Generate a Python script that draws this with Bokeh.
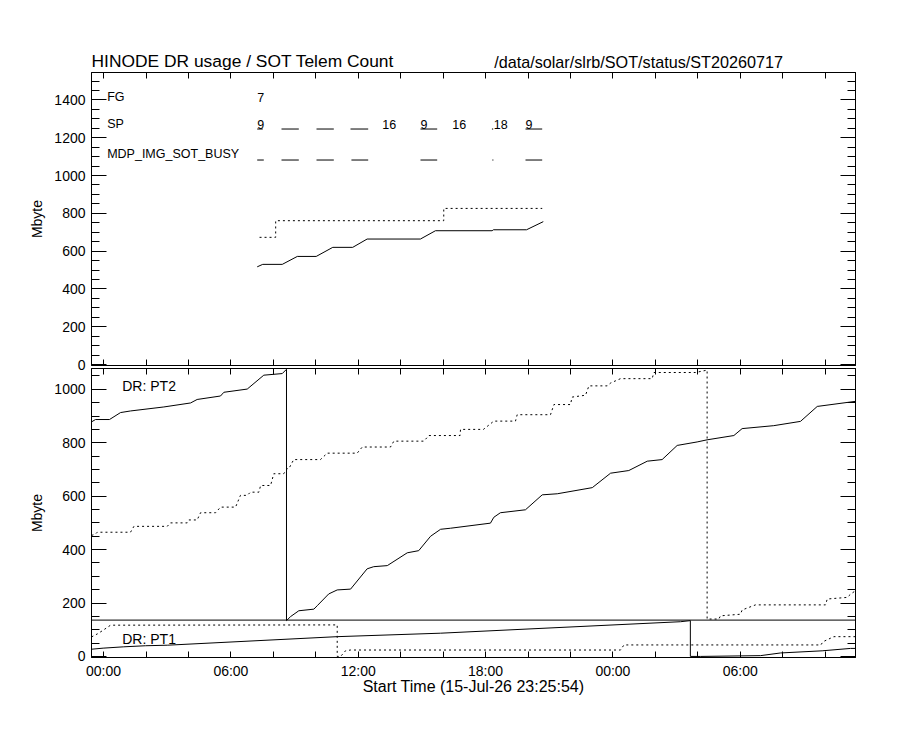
from bokeh.plotting import figure
from bokeh.models import LinearAxis, FixedTicker, Range1d, Span
from bokeh.layouts import column
from bokeh.embed import file_html
from bokeh.resources import INLINE
from bokeh.core.properties import value

# ---------------- data (hours relative to 16-Jul-26 00:00, Mbyte) ----------------
X_START = -0.5683          # 15-Jul-26 23:25:54
X_SPAN_H = 36.0
X_TICKS = list(range(0, 36, 2))
X_TICK_LABELS = {0: "00:00", 6: "06:00", 12: "12:00", 18: "18:00", 24: "00:00", 30: "06:00"}

TOP_Y = (-5, 1545)
BOT_Y = (-4, 1078)
TOP_Y_TICKS = list(range(0, 1401, 200))
TOP_Y_MINOR = list(range(0, 1501, 50))
BOT_Y_TICKS = list(range(0, 1001, 200))
BOT_Y_MINOR = list(range(0, 1051, 50))

# top panel: SOT telemetry count
TOP_SOLID_H = [7.24, 7.50, 8.42, 9.13, 10.02, 10.80, 11.74, 12.42, 14.93, 15.64, 18.31, 18.37, 19.93, 20.72]
TOP_SOLID_MB = [517, 530, 530, 572, 572, 620, 620, 664, 664, 708, 708, 713, 713, 756]
TOP_DOT_H = [7.35, 8.11, 8.11, 16.03, 16.03, 20.67]
TOP_DOT_MB = [673, 673, 761, 761, 826, 826]

ROW_NAMES = ["FG", "SP", "MDP_IMG_SOT_BUSY"]
ROW_MB = [1415, 1270, 1113]
ROW_NAME_H = 0.17

FG_H = [7.24]
FG_TXT = ["7"]
SP_H = [7.24, 13.13, 14.93, 16.43, 18.39, 19.88]
SP_TXT = ["9", "16", "9", "16", "18", "9"]
SP_BAR_START = [7.24, 8.385, 10.034, 11.636, 14.934, 18.30, 19.882]
SP_BAR_END = [7.50, 9.200, 10.849, 12.470, 15.721, 18.36, 20.669]
SP_BAR_MB = 1246
MDP_BAR_START = [7.24, 8.385, 10.034, 11.68, 14.934, 18.32, 19.882]
MDP_BAR_END = [7.55, 9.200, 10.849, 12.470, 15.721, 18.37, 20.669]
MDP_BAR_MB = 1082

# bottom panel: data recorder partitions
PT1_CAPACITY_MB = 136

PT2_SOLID_H = [-0.568, -0.38, 0.28, 0.80, 1.27, 2.84, 4.10, 4.41, 5.51, 5.67, 6.77, 7.55, 8.42, 8.62,
               8.62, 8.81, 9.20, 9.91, 10.07, 10.61, 11.01, 11.64, 12.42, 12.73, 13.37, 14.31, 14.85,
               15.41, 15.88, 16.35, 18.23, 18.39, 18.70, 19.88, 20.67, 21.38, 23.03, 23.89, 24.75,
               25.62, 26.32, 27.03, 27.97, 28.44, 29.70, 30.09, 31.58, 32.84, 33.63, 35.43]
PT2_SOLID_MB = [878, 887, 887, 913, 919, 934, 949, 962, 975, 989, 1001, 1053, 1059, 1075,
                134, 149, 171, 177, 190, 234, 249, 252, 328, 336, 340, 388, 396,
                450, 476, 480, 499, 521, 538, 549, 605, 609, 632, 686, 696,
                731, 737, 790, 803, 811, 827, 853, 864, 880, 936, 955]

PT2_DOT_H = [-0.568, -0.38, -0.30, 1.27, 1.43, 3.00, 3.15, 3.94, 4.02, 4.41, 4.57, 5.28, 5.51, 6.22,
             6.45, 6.77, 6.92, 7.32, 7.40, 7.87, 8.02, 8.49, 8.65, 8.73, 8.96, 10.22, 10.54, 11.95,
             12.19, 13.52, 13.68, 15.09, 15.33, 16.80, 16.82, 17.90, 18.39, 19.41, 19.49, 21.06,
             21.22, 22.00, 22.08, 22.71, 22.87, 23.73, 23.90, 24.36, 25.85, 25.93, 27.89, 28.44,
             28.44, 28.99, 29.07, 30.01, 30.09, 30.72, 34.02, 34.10, 35.04, 35.20, 35.43]
PT2_DOT_MB = [453, 458, 465, 465, 487, 487, 500, 500, 511, 511, 538, 538, 559, 559,
              603, 603, 615, 615, 640, 640, 684, 684, 703, 703, 737, 737, 761, 761,
              784, 784, 806, 806, 827, 827, 850, 850, 881, 881, 905, 905,
              943, 943, 971, 978, 1013, 1013, 1024, 1040, 1040, 1063, 1063, 1072,
              140, 140, 152, 158, 174, 193, 193, 215, 221, 233, 246]

PT1_SOLID_H = [-0.568, -0.02, 0.95, 1.98, 3.00, 11.01, 15.88, 27.19, 27.65, 27.65, 28.12, 30.96,
               31.90, 33.86, 35.20, 35.43]
PT1_SOLID_MB = [27, 31, 36, 40, 42, 74, 87, 130, 134, 0, 0, 3, 13, 21, 30, 30]

PT1_DOT_H = [-0.568, -0.30, -0.06, 0.33, 11.01, 11.01, 11.17, 11.40, 11.63, 24.36, 24.52, 33.80,
             33.90, 34.41, 35.43]
PT1_DOT_MB = [73, 84, 96, 117, 118, 0, 0, 21, 24, 24, 43, 43, 55, 74, 74]

PANEL_TAGS = ["DR:  PT2", "DR:  PT1"]
PANEL_TAG_H = [0.88, 0.88]
PANEL_TAG_MB = [1013, 66]

TITLE_LEFT = "HINODE DR usage / SOT Telem Count"
TITLE_RIGHT = "/data/solar/slrb/SOT/status/ST20260717"
TITLE_RIGHT_CENTER_H = 25.21
X_TITLE = "Start Time (15-Jul-26 23:25:54)"
Y_TITLE = "Mbyte"

# ---------------- styling ----------------
FONT = "Liberation Sans"
BLACK = "black"
DOT = "2 3"
LEFT = 91
FRAME_W = 764


def base_fig(frame_h, yr, b_top, b_bottom, outline=True):
    p = figure(frame_width=FRAME_W, frame_height=frame_h,
               x_range=Range1d(X_START, X_START + X_SPAN_H), y_range=Range1d(*yr),
               output_backend="svg", toolbar_location=None,
               x_axis_location=None, y_axis_location=None,
               min_border_left=LEFT, min_border_right=12,
               min_border_top=b_top, min_border_bottom=b_bottom,
               background_fill_color="white", border_fill_color="white",
               outline_line_color=BLACK if outline else None, outline_line_width=1)
    p.grid.visible = False
    return p


def add_x_axes(p, labelled):
    for loc in ("above", "below"):
        if loc == "below" and labelled:
            ax = LinearAxis(ticker=FixedTicker(ticks=X_TICKS, minor_ticks=[]),
                            major_tick_in=6, major_tick_out=0, minor_tick_in=0, minor_tick_out=0,
                            axis_line_color=BLACK, major_tick_line_color=BLACK)
            ax.major_label_overrides = {t: X_TICK_LABELS.get(t, "") for t in X_TICKS}
            ax.major_label_text_font = FONT
            ax.major_label_text_font_size = "14px"
            ax.major_label_text_color = BLACK
            ax.major_label_standoff = 5
            ax.axis_label = X_TITLE
            ax.axis_label_text_font = FONT
            ax.axis_label_text_font_size = "16px"
            ax.axis_label_text_font_style = "normal"
            ax.axis_label_text_color = BLACK
            ax.axis_label_standoff = -4
        else:
            # unlabelled mirror axis: the tick marks are drawn as minor ticks
            ax = LinearAxis(ticker=FixedTicker(ticks=[], minor_ticks=X_TICKS),
                            major_tick_in=0, major_tick_out=0, minor_tick_in=6, minor_tick_out=0,
                            axis_line_color=BLACK, minor_tick_line_color=BLACK,
                            major_label_standoff=0)
        p.add_layout(ax, loc)


def add_y_axes(p, majors, minors):
    for loc in ("left", "right"):
        ax = LinearAxis(ticker=FixedTicker(ticks=majors, minor_ticks=minors),
                        major_tick_in=15, major_tick_out=0, minor_tick_in=8, minor_tick_out=0,
                        axis_line_color=BLACK, major_tick_line_color=BLACK,
                        minor_tick_line_color=BLACK)
        ax.major_label_text_font = FONT
        ax.major_label_text_font_size = "14px"
        ax.major_label_text_color = BLACK
        if loc == "left":
            ax.major_label_standoff = 6
            ax.axis_label = Y_TITLE
            ax.axis_label_text_font = FONT
            ax.axis_label_text_font_size = "14px"
            ax.axis_label_text_font_style = "normal"
            ax.axis_label_text_color = BLACK
            ax.axis_label_standoff = 6
        else:
            ax.major_label_overrides = {t: "" for t in majors}
            ax.major_label_standoff = 0
        p.add_layout(ax, loc)


# ---------------- header with the two titles ----------------
p0 = base_fig(70, (0, 70), 0, 0, outline=False)
p0.min_border_right = 12
p0.text(x=[X_START], y=[9.2], text=[TITLE_LEFT], text_font=value(FONT),
        text_font_size="17.4px", text_color=BLACK, text_align="left", text_baseline="middle")
p0.text(x=[TITLE_RIGHT_CENTER_H], y=[8.8], text=[TITLE_RIGHT], text_font=value(FONT),
        text_font_size="16.2px", text_color=BLACK, text_align="center", text_baseline="middle")

# ---------------- top panel ----------------
p1 = base_fig(293, TOP_Y, 2, 10)
add_x_axes(p1, False)
add_y_axes(p1, TOP_Y_TICKS, TOP_Y_MINOR)

p1.line(TOP_SOLID_H, TOP_SOLID_MB, line_color=BLACK, line_width=1)
p1.line(TOP_DOT_H, TOP_DOT_MB, line_color=BLACK, line_width=1, line_dash=DOT)

p1.text(x=[ROW_NAME_H] * len(ROW_NAMES), y=ROW_MB, text=ROW_NAMES,
        text_font=value(FONT), text_font_size="12.5px", text_color=BLACK,
        text_align="left", text_baseline="middle")
p1.text(x=FG_H, y=[ROW_MB[0]] * len(FG_H), text=FG_TXT,
        text_font=value(FONT), text_font_size="12.5px", text_color=BLACK,
        text_align="left", text_baseline="middle")
p1.text(x=SP_H, y=[ROW_MB[1]] * len(SP_H), text=SP_TXT,
        text_font=value(FONT), text_font_size="12.5px", text_color=BLACK,
        text_align="left", text_baseline="middle")
p1.segment(x0=SP_BAR_START, y0=[SP_BAR_MB] * len(SP_BAR_START),
           x1=SP_BAR_END, y1=[SP_BAR_MB] * len(SP_BAR_END), line_color=BLACK, line_width=1)
p1.segment(x0=MDP_BAR_START, y0=[MDP_BAR_MB] * len(MDP_BAR_START),
           x1=MDP_BAR_END, y1=[MDP_BAR_MB] * len(MDP_BAR_END), line_color=BLACK, line_width=1)

# ---------------- bottom panel ----------------
p2 = base_fig(289, BOT_Y, 2, 45)
p2.border_fill_color = None
p2.margin = (-9, 0, 0, 0)
add_x_axes(p2, True)
add_y_axes(p2, BOT_Y_TICKS, BOT_Y_MINOR)

p2.add_layout(Span(location=PT1_CAPACITY_MB, dimension="width", line_color=BLACK, line_width=1))
p2.line(PT2_SOLID_H, PT2_SOLID_MB, line_color=BLACK, line_width=1)
p2.line(PT2_DOT_H, PT2_DOT_MB, line_color=BLACK, line_width=1, line_dash=DOT)
p2.line(PT1_SOLID_H, PT1_SOLID_MB, line_color=BLACK, line_width=1)
p2.line(PT1_DOT_H, PT1_DOT_MB, line_color=BLACK, line_width=1, line_dash=DOT)

p2.text(x=PANEL_TAG_H, y=PANEL_TAG_MB, text=PANEL_TAGS,
        text_font=value(FONT), text_font_size="14px", text_color=BLACK,
        text_align="left", text_baseline="middle")

layout = column(p0, p1, p2, spacing=0)
open("out.html", "w").write(file_html(layout, INLINE))
